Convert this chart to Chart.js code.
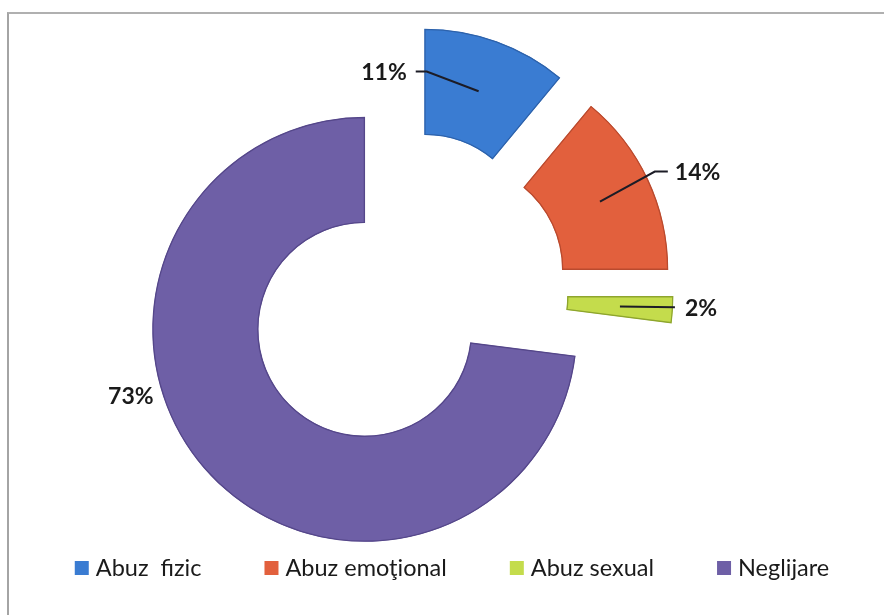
<!DOCTYPE html>
<html>
<head>
<meta charset="utf-8">
<script src="https://cdn.jsdelivr.net/npm/chart.js@4"></script>
<style>
  html, body { margin: 0; padding: 0; background: #fff; }
  #wrap { position: relative; width: 884px; height: 615px; overflow: hidden; }
  #frame { position: absolute; left: 7px; top: 12px; right: -4px; bottom: -4px;
           border-top: 2px solid #b0b0b0; border-left: 2px solid #a4a4a4; }
  canvas { position: absolute; left: 0; top: 0; }
</style>
</head>
<body>
<div id="wrap">
  <div id="frame"></div>
  <canvas id="chart-1" width="884" height="615"></canvas>
</div>
<script>
  // Donnees du graphique
  const categories = ['Abuz  fizic', 'Abuz emoţional', 'Abuz sexual', 'Neglijare'];
  const values = [11, 14, 2, 73];
  const valueLabels = ['11%', '14%', '2%', '73%'];
  const colors = ['#3a7cd2', '#e2603d', '#c4dc4c', '#6e5fa6'];
  const edgeColors = ['#2d62ab', '#b94a2e', '#8ea52e', '#55478a'];

  // distance d'eclatement des secteurs (px)
  const explode = 55;

  // position des etiquettes : angle (deg, depuis le haut) et rayon depuis le centre du secteur
  const labelPos = [
    { deg: -3, r: 170, hook: 11, align: 'right', gap: 9, line: true },
    { deg: 65.2, r: 233.6, hook: -13, align: 'left', gap: 7, line: true },
    { deg: 92.9, r: 214.3, hook: 0, align: 'left', gap: 10, line: true },
    { deg: -105.75, r: 243, hook: 0, align: 'center', gap: 0, line: false }
  ];

  function shiftedCenter(arc) {
    const mid = (arc.startAngle + arc.endAngle) / 2;
    return { x: arc.x + Math.cos(mid) * explode, y: arc.y + Math.sin(mid) * explode, mid: mid };
  }

  // dessine chaque secteur decale le long de son angle median
  const explodePlugin = {
    id: 'explode',
    beforeDatasetDraw(chart, args) {
      const ctx = chart.ctx;
      args.meta.data.forEach(arc => {
        const mid = (arc.startAngle + arc.endAngle) / 2;
        ctx.save();
        ctx.translate(Math.cos(mid) * explode, Math.sin(mid) * explode);
        arc.draw(ctx);
        ctx.restore();
      });
      return false;
    }
  };

  // etiquettes en pourcentage avec lignes de rappel
  const labelPlugin = {
    id: 'pctLabels',
    afterDatasetsDraw(chart) {
      const ctx = chart.ctx;
      const meta = chart.getDatasetMeta(0);
      meta.data.forEach((arc, i) => {
        const c = shiftedCenter(arc);
        const p = labelPos[i];
        const a = (p.deg - 90) * Math.PI / 180;
        const ax = c.x + Math.cos(a) * p.r;
        const ay = c.y + Math.sin(a) * p.r;
        if (p.line) {
          const rm = (arc.innerRadius + arc.outerRadius) / 2;
          const px = c.x + Math.cos(c.mid) * rm;
          const py = c.y + Math.sin(c.mid) * rm;
          ctx.save();
          ctx.strokeStyle = '#1c1c26';
          ctx.lineWidth = 2;
          ctx.beginPath();
          ctx.moveTo(ax, ay);
          ctx.lineTo(ax + p.hook, ay);
          ctx.lineTo(px, py);
          ctx.stroke();
          ctx.restore();
        }
        ctx.save();
        ctx.font = 'bold 23px Lato';
        ctx.fillStyle = '#1a1a1a';
        ctx.textBaseline = 'middle';
        ctx.textAlign = p.align;
        let tx = ax;
        if (p.align === 'right') tx = ax - p.gap;
        if (p.align === 'left') tx = ax + p.gap;
        ctx.fillText(valueLabels[i], tx, ay + 1);
        ctx.restore();
      });
    }
  };

  // legende en bas
  const legendPlugin = {
    id: 'bottomLegend',
    afterDraw(chart) {
      const ctx = chart.ctx;
      const box = 14, boxGap = 7, itemGap = 63, y = 568, centerX = 452;
      ctx.save();
      ctx.font = '23.5px Lato';
      const widths = categories.map(t => box + boxGap + ctx.measureText(t).width);
      const total = widths.reduce((s, w) => s + w, 0) + itemGap * (categories.length - 1);
      let x = centerX - total / 2;
      categories.forEach((t, i) => {
        ctx.fillStyle = colors[i];
        ctx.fillRect(x, y - box / 2, box, box);
        ctx.fillStyle = '#1a1a1a';
        ctx.textBaseline = 'middle';
        ctx.textAlign = 'left';
        ctx.fillText(t, x + box + boxGap, y);
        x += widths[i] + itemGap;
      });
      ctx.restore();
    }
  };

  const ctx = document.getElementById('chart-1');
  new Chart(ctx, {
    type: 'doughnut',
    data: {
      labels: categories,
      datasets: [{
        data: values,
        backgroundColor: colors,
        borderColor: edgeColors,
        borderWidth: 1,
        borderAlign: 'inner',
        hoverOffset: 0,
        offset: 0
      }]
    },
    options: {
      responsive: false,
      animation: false,
      events: [],
      cutout: '50%',
      layout: {
        padding: { left: 150, right: 222, top: 80.5, bottom: 109.5 }
      },
      plugins: {
        legend: { display: false },
        tooltip: { enabled: false }
      }
    },
    plugins: [explodePlugin, labelPlugin, legendPlugin]
  });
</script>
</body>
</html>
